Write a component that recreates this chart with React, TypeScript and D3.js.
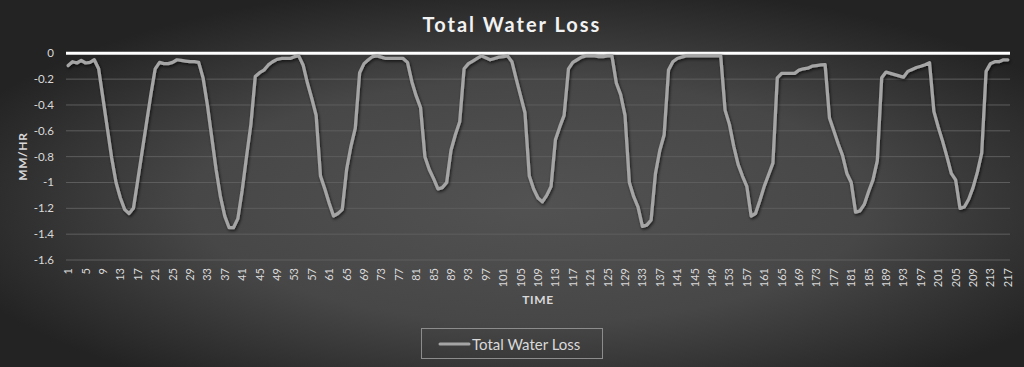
import React, { useEffect, useRef } from 'react';
import * as d3 from 'd3';

// Series values (MM/HR), one per time step 1..217
const waterLoss: number[] = [
    -0.095, -0.065, -0.075, -0.055, -0.075, -0.07, -0.05, -0.12, -0.35, -0.58,
    -0.81, -1.0, -1.12, -1.21, -1.24, -1.2, -0.98, -0.76, -0.54, -0.32,
    -0.12, -0.07, -0.08, -0.08, -0.07, -0.05, -0.055, -0.06, -0.065, -0.065,
    -0.07, -0.19, -0.4, -0.65, -0.9, -1.11, -1.26, -1.35, -1.35, -1.28,
    -1.06, -0.8, -0.55, -0.18, -0.15, -0.13, -0.09, -0.065, -0.047, -0.04,
    -0.04, -0.04, -0.026, -0.02, -0.09, -0.23, -0.35, -0.48, -0.95, -1.05,
    -1.16, -1.26, -1.24, -1.21, -0.9, -0.72, -0.58, -0.15, -0.08, -0.05,
    -0.025, -0.02, -0.03, -0.04, -0.04, -0.04, -0.04, -0.04, -0.07, -0.22,
    -0.33, -0.42, -0.8, -0.9, -0.97, -1.05, -1.04, -1.0, -0.75, -0.63,
    -0.53, -0.12, -0.08, -0.06, -0.04, -0.02, -0.035, -0.05, -0.04, -0.03,
    -0.025, -0.02, -0.065, -0.2, -0.33, -0.46, -0.95, -1.05, -1.12, -1.15,
    -1.1, -1.03, -0.67, -0.57, -0.48, -0.12, -0.07, -0.05, -0.03, -0.02,
    -0.02, -0.02, -0.025, -0.025, -0.02, -0.02, -0.23, -0.32, -0.48, -1.0,
    -1.11, -1.19, -1.34, -1.33, -1.29, -0.93, -0.75, -0.63, -0.13, -0.065,
    -0.04, -0.03, -0.02, -0.02, -0.02, -0.02, -0.02, -0.02, -0.02, -0.02,
    -0.02, -0.44, -0.55, -0.72, -0.86, -0.95, -1.03, -1.26, -1.24, -1.14,
    -1.03, -0.94, -0.85, -0.19, -0.155, -0.155, -0.155, -0.155, -0.13, -0.12,
    -0.115, -0.1, -0.095, -0.09, -0.088, -0.5, -0.6, -0.7, -0.79, -0.93,
    -1.0, -1.23, -1.22, -1.17, -1.07, -0.98, -0.83, -0.19, -0.145, -0.155,
    -0.165, -0.175, -0.185, -0.14, -0.125, -0.11, -0.1, -0.088, -0.072, -0.45,
    -0.57, -0.68, -0.8, -0.93, -0.98, -1.2, -1.19, -1.13, -1.04, -0.92,
    -0.77, -0.14, -0.08, -0.065, -0.065, -0.05, -0.05,
];

// Categories (time steps) and which of them get a label
const timeSteps: number[] = waterLoss.map((_, i) => i + 1);
const xTickLabels: number[] = timeSteps.filter(t => (t - 1) % 4 === 0);
const yTicks: number[] = [0, -0.2, -0.4, -0.6, -0.8, -1, -1.2, -1.4, -1.6];

const FONT = 'Lato, "Open Sans", sans-serif';

const App: React.FC = () => {
    const chartRef = useRef<SVGSVGElement>(null);

    useEffect(() => {
        document.body.style.margin = '0';
        if (!chartRef.current) return;

        const svg = d3.select(chartRef.current);
        svg.selectAll('*').remove();

        const W = 1024;
        const H = 367;
        const plot = { left: 66, right: 1010, top: 53.3, bottom: 260 };

        // Background + effects
        const defs = svg.append('defs');
        const bg = defs.append('radialGradient')
            .attr('id', 'bg-grad')
            .attr('cx', '52%')
            .attr('cy', '55%')
            .attr('r', '60%');
        bg.append('stop').attr('offset', '0%').attr('stop-color', '#525252');
        bg.append('stop').attr('offset', '55%').attr('stop-color', '#474747');
        bg.append('stop').attr('offset', '100%').attr('stop-color', '#232323');

        const shadow = defs.append('filter')
            .attr('id', 'line-shadow')
            .attr('x', '-5%').attr('y', '-5%')
            .attr('width', '110%').attr('height', '110%');
        shadow.append('feDropShadow')
            .attr('dx', 1).attr('dy', 1.5)
            .attr('stdDeviation', 1.4)
            .attr('flood-color', '#000')
            .attr('flood-opacity', 0.7);

        svg.append('rect')
            .attr('width', W)
            .attr('height', H)
            .attr('fill', 'url(#bg-grad)');

        // Scales
        const xScale = d3.scaleBand<number>()
            .domain(timeSteps)
            .range([plot.left, plot.right])
            .padding(0);
        const xc = (t: number) => (xScale(t) as number) + xScale.bandwidth() / 2;

        const yScale = d3.scaleLinear()
            .domain([-1.6, 0])
            .range([plot.bottom, plot.top]);

        // Gridlines
        svg.selectAll('line.grid')
            .data(yTicks.filter(d => d !== 0))
            .enter()
            .append('line')
            .attr('class', 'grid')
            .attr('x1', plot.left)
            .attr('x2', plot.right)
            .attr('y1', d => yScale(d))
            .attr('y2', d => yScale(d))
            .attr('stroke', '#5e5e5e')
            .attr('stroke-width', 1);

        // Y labels
        svg.selectAll('text.y-label')
            .data(yTicks)
            .enter()
            .append('text')
            .attr('class', 'y-label')
            .attr('x', 54)
            .attr('y', d => yScale(d) + 4)
            .attr('text-anchor', 'end')
            .attr('fill', '#d9d9d9')
            .attr('font-family', FONT)
            .attr('font-size', '11.5px')
            .text(d => String(d));

        // Axis line at zero
        svg.append('line')
            .attr('x1', plot.left)
            .attr('x2', plot.right)
            .attr('y1', yScale(0))
            .attr('y2', yScale(0))
            .attr('stroke', '#ffffff')
            .attr('stroke-width', 3);

        // Series line
        const line = d3.line<number>()
            .x((_, i) => xc(timeSteps[i]))
            .y(d => yScale(d));

        svg.append('path')
            .datum(waterLoss)
            .attr('d', line)
            .attr('fill', 'none')
            .attr('stroke', '#a5a5a5')
            .attr('stroke-width', 3.25)
            .attr('stroke-linejoin', 'round')
            .attr('stroke-linecap', 'round')
            .attr('filter', 'url(#line-shadow)');

        // X labels (rotated)
        svg.selectAll('text.x-label')
            .data(xTickLabels)
            .enter()
            .append('text')
            .attr('class', 'x-label')
            .attr('transform', d => `translate(${xc(d) + 4},268) rotate(-90)`)
            .attr('text-anchor', 'end')
            .attr('fill', '#d9d9d9')
            .attr('font-family', FONT)
            .attr('font-size', '11px')
            .text(d => d);

        // Axis titles
        svg.append('text')
            .attr('x', (plot.left + plot.right) / 2)
            .attr('y', 304)
            .attr('text-anchor', 'middle')
            .attr('fill', '#d9d9d9')
            .attr('font-family', FONT)
            .attr('font-weight', 'bold')
            .attr('font-size', '12px')
            .attr('letter-spacing', '0.6px')
            .text('TIME');

        svg.append('text')
            .attr('transform', `translate(26.5,${(plot.top + plot.bottom) / 2}) rotate(-90)`)
            .attr('text-anchor', 'middle')
            .attr('fill', '#d9d9d9')
            .attr('font-family', FONT)
            .attr('font-weight', 'bold')
            .attr('font-size', '12px')
            .attr('letter-spacing', '0.6px')
            .text('MM/HR');

        // Chart title
        svg.append('text')
            .attr('x', 512)
            .attr('y', 32)
            .attr('text-anchor', 'middle')
            .attr('fill', '#f2f2f2')
            .attr('font-family', FONT)
            .attr('font-weight', 'bold')
            .attr('font-size', '20px')
            .attr('letter-spacing', '2px')
            .text('Total Water Loss');

        // Legend
        const legend = svg.append('g');
        legend.append('rect')
            .attr('x', 421.5)
            .attr('y', 328.5)
            .attr('width', 181)
            .attr('height', 30)
            .attr('fill', 'none')
            .attr('stroke', '#8c8c8c')
            .attr('stroke-width', 1);
        legend.append('line')
            .attr('x1', 440)
            .attr('x2', 469)
            .attr('y1', 344)
            .attr('y2', 344)
            .attr('stroke', '#a5a5a5')
            .attr('stroke-width', 3)
            .attr('stroke-linecap', 'round');
        legend.append('text')
            .attr('x', 472)
            .attr('y', 349.5)
            .attr('fill', '#d9d9d9')
            .attr('font-family', FONT)
            .attr('font-size', '15px')
            .text('Total Water Loss');
    }, []);

    return <svg ref={chartRef} width={1024} height={367} style={{ display: 'block' }} />;
};

export default App;
